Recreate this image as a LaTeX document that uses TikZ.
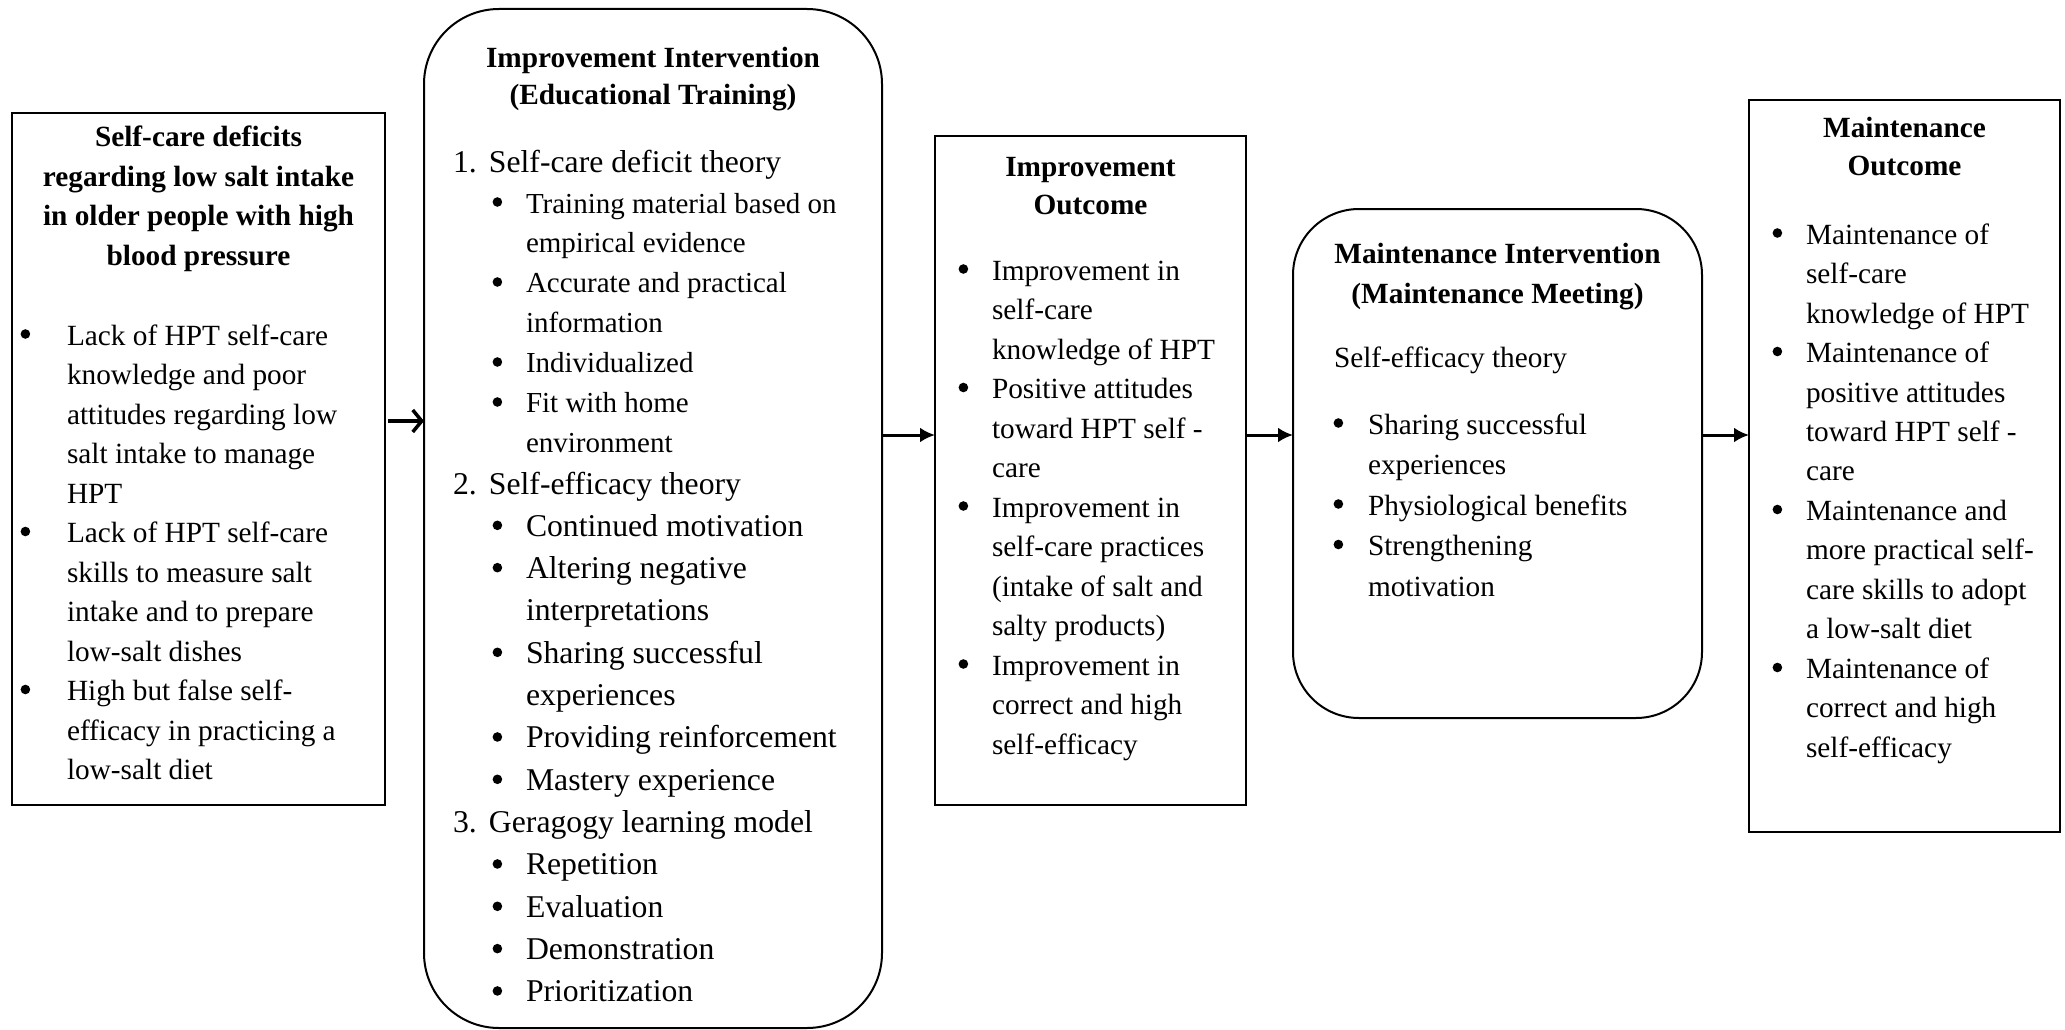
\documentclass[tikz,border=0pt]{standalone}
\usepackage{fontspec}
\setmainfont{Liberation Serif}
\usetikzlibrary{arrows.meta}
\newcommand{\bigdot}{\hspace*{3.6pt}\tikz[x=1pt,y=1pt,baseline=0pt]{\fill (4.8,11) circle[radius=4.8];}}
\newcommand{\itm}[2]{\makebox[#1][l]{\bigdot}#2}
\newcommand{\cnt}[2]{\hspace*{#1}#2}
\newcommand{\larger}{\fontsize{31.7}{40}\selectfont}
\begin{document}
\begin{tikzpicture}[x=1pt,y=-1pt,
  boxnode/.style={draw, line width=2pt, outer sep=0pt, inner sep=0pt},
  txt/.style={inner sep=0pt, outer sep=0pt, anchor=base west, font=\fontsize{29.3}{39.5}\selectfont},
  hd/.style={inner sep=0pt, outer sep=0pt, anchor=base, font=\fontsize{29.3}{38}\selectfont\bfseries},
  flow/.style={line width=3pt, -{Latex[length=15pt,width=15pt]}},
  openflow/.style={line width=3.5pt, shorten <=3pt, -{Straight Barb[length=9pt,width=22pt]}}]
\useasboundingbox (0,0) rectangle (2065,1030);

% boxes
\node[boxnode, minimum width=373pt, minimum height=692pt] (b1) at (198.5,459) {};
\node[boxnode, rounded corners=75pt, minimum width=458pt, minimum height=1019pt] (b2) at (653,518.5) {};
\node[boxnode, minimum width=311pt, minimum height=669pt] (b3) at (1090.5,470.5) {};
\node[boxnode, rounded corners=66pt, minimum width=409pt, minimum height=509pt] (b4) at (1497.5,463.5) {};
\node[boxnode, minimum width=311pt, minimum height=732pt] (b5) at (1904.5,466) {};

% box 1
\node[hd, font=\fontsize{29.3}{39.5}\selectfont\bfseries] (h1) at (198.5,147) {\begin{tabular}[t]{@{}c@{}}Self-care deficits\\regarding low salt intake\\in older people with high\\blood pressure\end{tabular}};
\node[txt] (t1) at (17,345) {\begin{tabular}[t]{@{}l@{}}
\itm{50pt}{Lack of HPT self-care}\\
\cnt{50pt}{knowledge and poor}\\
\cnt{50pt}{attitudes regarding low}\\
\cnt{50pt}{salt intake to manage}\\
\cnt{50pt}{HPT}\\
\itm{50pt}{Lack of HPT self-care}\\
\cnt{50pt}{skills to measure salt}\\
\cnt{50pt}{intake and to prepare}\\
\cnt{50pt}{low-salt dishes}\\
\itm{50pt}{High but false self-}\\
\cnt{50pt}{efficacy in practicing a}\\
\cnt{50pt}{low-salt diet}
\end{tabular}};

% box 2
\node[hd, font=\fontsize{29.3}{37}\selectfont\bfseries] (h2) at (653,68) {\begin{tabular}[t]{@{}c@{}}Improvement Intervention\\(Educational Training)\end{tabular}};
\node[txt, font=\fontsize{29}{40}\selectfont] (t2a) at (453,173) {\begin{tabular}[t]{@{}l@{}}
{\larger\makebox[36pt][l]{1.}Self-care deficit theory}\\
\cnt{36pt}{\itm{37pt}{Training material based on}}\\
\cnt{73pt}{empirical evidence}\\
\cnt{36pt}{\itm{37pt}{Accurate and practical}}\\
\cnt{73pt}{information}\\
\cnt{36pt}{\itm{37pt}{Individualized}}\\
\cnt{36pt}{\itm{37pt}{Fit with home}}\\
\cnt{73pt}{environment}
\end{tabular}};
\begin{scope}
\clip (424,9) rectangle (882,1001);
\node[txt, font=\fontsize{31.7}{42.33}\selectfont] (t2b) at (453,494) {\begin{tabular}[t]{@{}l@{}}
\makebox[36pt][l]{2.}Self-efficacy theory\\
\cnt{36pt}{\itm{37pt}{Continued motivation}}\\
\cnt{36pt}{\itm{37pt}{Altering negative}}\\
\cnt{73pt}{interpretations}\\
\cnt{36pt}{\itm{37pt}{Sharing successful}}\\
\cnt{73pt}{experiences}\\
\cnt{36pt}{\itm{37pt}{Providing reinforcement}}\\
\cnt{36pt}{\itm{37pt}{Mastery experience}}\\
\makebox[36pt][l]{3.}Geragogy learning model\\
\cnt{36pt}{\itm{37pt}{Repetition}}\\
\cnt{36pt}{\itm{37pt}{Evaluation}}\\
\cnt{36pt}{\itm{37pt}{Demonstration}}\\
\cnt{36pt}{\itm{37pt}{Prioritization}}
\end{tabular}};
\end{scope}

% box 3
\node[hd] (h3) at (1090.5,177) {\begin{tabular}[t]{@{}c@{}}Improvement\\Outcome\end{tabular}};
\node[txt] (t3) at (955,280) {\begin{tabular}[t]{@{}l@{}}
\itm{37pt}{Improvement in}\\
\cnt{37pt}{self-care}\\
\cnt{37pt}{knowledge of HPT}\\
\itm{37pt}{Positive attitudes}\\
\cnt{37pt}{toward HPT self -}\\
\cnt{37pt}{care}\\
\itm{37pt}{Improvement in}\\
\cnt{37pt}{self-care practices}\\
\cnt{37pt}{(intake of salt and}\\
\cnt{37pt}{salty products)}\\
\itm{37pt}{Improvement in}\\
\cnt{37pt}{correct and high}\\
\cnt{37pt}{self-efficacy}
\end{tabular}};

% box 4
\node[hd, font=\fontsize{29.3}{40}\selectfont\bfseries] (h4) at (1497.5,263) {\begin{tabular}[t]{@{}c@{}}Maintenance Intervention\\(Maintenance Meeting)\end{tabular}};
\node[txt] (s4) at (1334,367) {Self-efficacy theory};
\node[txt, font=\fontsize{29.3}{40.5}\selectfont] (t4) at (1330,434) {\begin{tabular}[t]{@{}l@{}}
\itm{38pt}{Sharing successful}\\
\cnt{38pt}{experiences}\\
\itm{38pt}{Physiological benefits}\\
\itm{38pt}{Strengthening}\\
\cnt{38pt}{motivation}
\end{tabular}};

% box 5
\node[hd] (h5) at (1904.5,138) {\begin{tabular}[t]{@{}c@{}}Maintenance\\Outcome\end{tabular}};
\node[txt] (t5) at (1769,244) {\begin{tabular}[t]{@{}l@{}}
\itm{37pt}{Maintenance of}\\
\cnt{37pt}{self-care}\\
\cnt{37pt}{knowledge of HPT}\\
\itm{37pt}{Maintenance of}\\
\cnt{37pt}{positive attitudes}\\
\cnt{37pt}{toward HPT self -}\\
\cnt{37pt}{care}\\
\itm{37pt}{Maintenance and}\\
\cnt{37pt}{more practical self-}\\
\cnt{37pt}{care skills to adopt}\\
\cnt{37pt}{a low-salt diet}\\
\itm{37pt}{Maintenance of}\\
\cnt{37pt}{correct and high}\\
\cnt{37pt}{self-efficacy}
\end{tabular}};

% arrows
\coordinate (a1) at (0,421);
\coordinate (a2) at (0,435);
\draw[openflow] (b1.east |- a1) -- (b2.west |- a1);
\draw[flow] (b2.east |- a2) -- (b3.west |- a2);
\draw[flow] (b3.east |- a2) -- (b4.west |- a2);
\draw[flow] (b4.east |- a2) -- (b5.west |- a2);
\end{tikzpicture}
\end{document}
